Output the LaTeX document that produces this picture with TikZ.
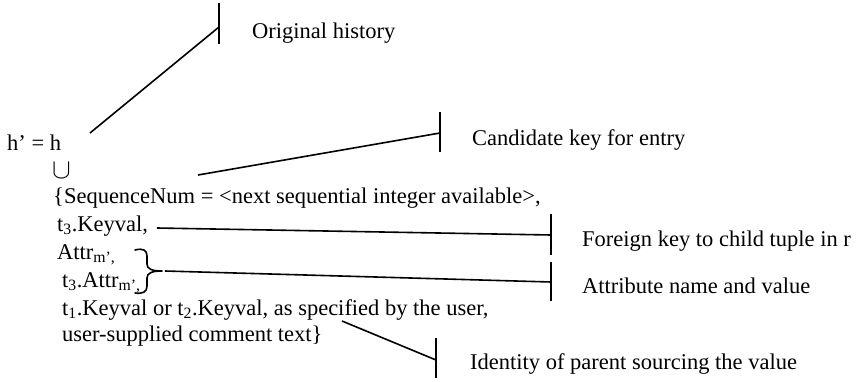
\documentclass[tikz,border=0pt]{standalone}
\usepackage{graphicx}
\usepackage{fontspec}
\setmainfont{Liberation Serif}
\begin{document}
\begin{tikzpicture}[x=1pt,y=-1pt,
  txt/.style={inner sep=0pt, anchor=base west, font=\fontsize{22.5}{26}\selectfont},
  callout/.style={line width=1.6pt},
  bracestroke/.style={line width=1.6pt, line cap=round, line join=round}]
\useasboundingbox (0,0) rectangle (865,381);

% formula, one line per node
\node[txt] (hh)   at (7,150)   {h’ = h};
\node[txt] (cup)  at (52,178)  {\scalebox{1.35}{$\cup$}};
\node[txt] (seq)  at (53,203)  {\{SequenceNum = <next sequential integer available>,};
\node[txt] (key3) at (57,231)  {t\textsubscript{3}.Keyval,};
\node[txt] (attr) at (57,259)  {Attr\textsubscript{m’,}};
\node[txt] (att3) at (62,287)  {t\textsubscript{3}.Attr\textsubscript{m’,}};
\node[txt] (par)  at (62,315)  {t\textsubscript{1}.Keyval or t\textsubscript{2}.Keyval, as specified by the user,};
\node[txt] (cmt)  at (62,341)  {user-supplied comment text\}};

% annotations
\node[txt] (lorig) at (252,38)  {Original history};
\node[txt] (lcand) at (472,145) {Candidate key for entry};
\node[txt] (lfor)  at (582,246) {Foreign key to child tuple in r};
\node[txt] (latt)  at (582,293) {Attribute name and value};
\node[txt] (lid)   at (470,369) {Identity of parent sourcing the value};

% brace grouping the attribute name and value
\draw[bracestroke] (135,250) .. controls (143,248) and (147,250) .. (147,256)
  -- (147,264) .. controls (147,269) and (152,271) .. (162,271)
  .. controls (152,271) and (147,273) .. (147,278)
  -- (147,286) .. controls (147,292) and (143,294) .. (135,293);
\coordinate (brtip) at (165,271);

% connector end points
\coordinate (sHH)  at (90,133);
\coordinate (sSeq) at (198,175);
\coordinate (sKey) at (157,228);
\coordinate (sPar) at (342,321);

% ticks at the annotation side
\coordinate (tOrig) at (219,27);
\coordinate (tOrigA) at (219,3);  \coordinate (tOrigB) at (219,44);
\coordinate (tCand) at (440,133);
\coordinate (tCandA) at (440,112); \coordinate (tCandB) at (440,152);
\coordinate (tFor) at (551,235);
\coordinate (tForA) at (551,214); \coordinate (tForB) at (551,255);
\coordinate (tAtt) at (551,282);
\coordinate (tAttA) at (551,262); \coordinate (tAttB) at (551,301);
\coordinate (tId) at (436,360);
\coordinate (tIdA) at (436,338); \coordinate (tIdB) at (436,378);

\draw[callout] (tOrigA) -- (tOrigB);
\draw[callout] (tCandA) -- (tCandB);
\draw[callout] (tForA) -- (tForB);
\draw[callout] (tAttA) -- (tAttB);
\draw[callout] (tIdA) -- (tIdB);

\draw[callout] (sHH) -- (tOrig);
\draw[callout] (sSeq) -- (tCand);
\draw[callout] (sKey) -- (tFor);
\draw[callout] (brtip) -- (tAtt);
\draw[callout] (sPar) -- (tId);
\end{tikzpicture}
\end{document}
